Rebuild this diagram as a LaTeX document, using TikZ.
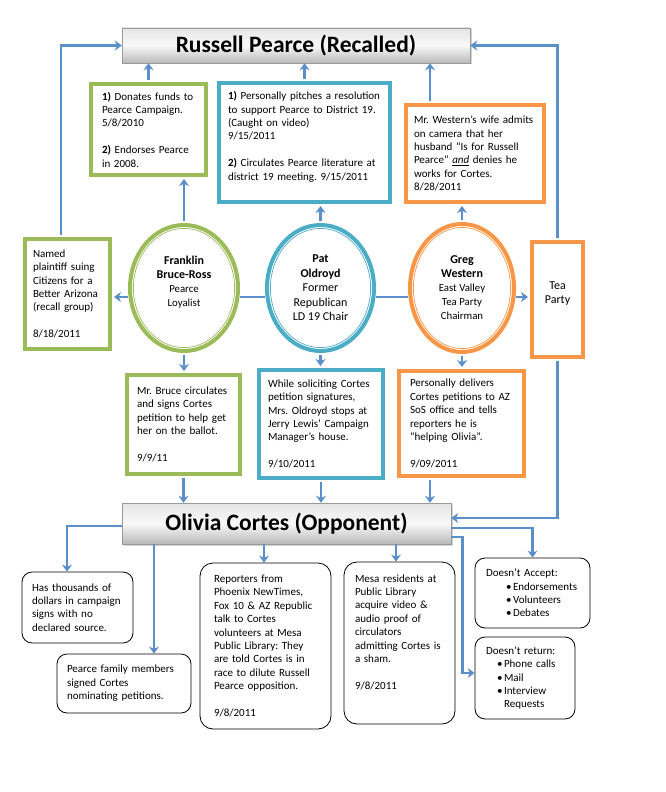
\documentclass[tikz,border=0pt]{standalone}
\usepackage{fontspec}
\setmainfont{Carlito}
\usepackage{xcolor}
\usetikzlibrary{shapes.geometric, arrows.meta, shadows}

\definecolor{cgreen}{HTML}{9BBB59}
\definecolor{ccyan}{HTML}{4BACC6}
\definecolor{corange}{HTML}{F79646}
\definecolor{linkblue}{RGB}{91,143,201}

\newcommand{\bulletat}[1]{\hspace*{#1}\makebox[7pt][l]{\textbullet}}
\frenchspacing

\begin{document}
\begin{tikzpicture}[x=1pt, y=-1pt,
  >={Stealth[length=7pt,width=10pt]},
  body/.style={font=\fontsize{11}{13.4}\selectfont},
  title/.style={draw=gray!80, thin, top color=gray!20, bottom color=gray!55, middle color=gray!5,
    drop shadow={opacity=0.35, shadow xshift=1.5pt, shadow yshift=-1.5pt},
    font=\fontsize{23.5}{26}\selectfont\bfseries},
  card/.style={draw=#1, line width=4pt, fill=white, body, align=left, inner ysep=2pt},
  person/.style={ellipse, draw=#1, line width=4pt, fill=white, inner sep=0pt, align=center,
    font=\fontsize{10.8}{14}\selectfont},
  bubble/.style={draw=black, line width=0.8pt, rounded corners=10pt, fill=white, body, align=left, inner ysep=2pt},
  link/.style={draw=linkblue, line width=2.6pt},
  arr/.style={link, ->},
  outof/.style={shorten <=2pt},
  into/.style={shorten >=2pt}]

\useasboundingbox (0,0) rectangle (665,792);

% Russell Pearce
\node[title, minimum width=348pt, minimum height=35pt] (rp) at (296,45.5) {Russell Pearce (Recalled)};

\node[card=cgreen, text width=93pt, inner xsep=11pt, minimum height=91pt] (don) at (148.5,129.5)
  {\textbf{1)} Donates funds to\\Pearce Campaign.\\5/8/2010\\[13.4pt]\textbf{2)} Endorses Pearce\\in 2008.};
\node[card=ccyan, text width=153pt, inner xsep=9pt, minimum height=119pt] (pitch) at (304.5,142.5)
  {\textbf{1)} Personally pitches a resolution\\to support Pearce to District 19.\\(Caught on video)\\9/15/2011\\[13.4pt]\textbf{2)} Circulates Pearce literature at\\district 19 meeting. 9/15/2011\\\mbox{}};
\node[card=corange, text width=122pt, inner xsep=8pt, minimum height=97pt] (wife) at (475,153.5)
  {Mr. Western’s wife admits\\on camera that her\\husband “Is for Russell\\Pearce” \underline{\textit{and}} denies he\\works for Cortes.\\8/28/2011};

% the three people
\node[card=cgreen, text width=69pt, inner xsep=8pt, minimum height=110pt] (plaintiff) at (67.5,294)
  {Named\\plaintiff suing\\Citizens for a\\Better Arizona\\(recall group)\\[13.4pt]8/18/2011};
\node[person=cgreen, minimum width=108pt, minimum height=126pt] (fbr) at (184,288)
  {\textbf{\fontsize{12}{14}\selectfont Franklin}\\\textbf{\fontsize{12}{14}\selectfont Bruce-Ross}\\Pearce\\Loyalist\\\mbox{}};
\node[person=ccyan, minimum width=107pt, minimum height=126pt, font=\fontsize{12}{14.5}\selectfont] (pat) at (320.5,288)
  {\textbf{Pat}\\\textbf{Oldroyd}\\Former\\Republican\\LD 19 Chair};
\node[person=corange, minimum width=104pt, minimum height=128pt] (greg) at (462,288)
  {\textbf{\fontsize{12}{14}\selectfont Greg}\\\textbf{\fontsize{12}{14}\selectfont Western}\\East Valley\\Tea Party\\Chairman};
\node[card=corange, align=center, inner xsep=0pt, minimum width=51pt, minimum height=115pt,
  font=\fontsize{12}{14}\selectfont] (tea) at (557.5,299.5) {Tea\\Party\\\mbox{}};

\node[card=cgreen, text width=93pt, inner xsep=10pt, minimum height=99pt] (bruce) at (183.5,424.5)
  {Mr. Bruce circulates\\and signs Cortes\\petition to help get\\her on the ballot.\\[13.4pt]9/9/11};
\node[card=ccyan, text width=106pt, inner xsep=9pt, minimum height=108pt] (oldr) at (321,424)
  {While soliciting Cortes\\petition signatures,\\Mrs. Oldroyd stops at\\Jerry Lewis’ Campaign\\Manager’s house.\\[13.4pt]9/10/2011};
\node[card=corange, text width=103pt, inner xsep=11pt, minimum height=105pt] (deliv) at (461.5,423.5)
  {Personally delivers\\Cortes petitions to AZ\\SoS office and tells\\reporters he is\\“helping Olivia”.\\[13.4pt]9/09/2011};

% Olivia Cortes
\node[title, minimum width=329pt, minimum height=41pt] (oc) at (286.5,523.5) {Olivia Cortes (Opponent)};

\node[bubble, text width=91pt, inner xsep=10pt, minimum height=71pt] (signs) at (77.5,607.5)
  {Has thousands of\\dollars in campaign\\signs with no\\declared source.};
\node[bubble, text width=114pt, inner xsep=10pt, minimum height=59pt] (family) at (124,683.5)
  {Pearce family members\\signed Cortes\\nominating petitions.};
\node[bubble, rounded corners=13pt, text width=103pt, inner xsep=14pt, minimum height=166pt] (reporters) at (265.5,646)
  {Reporters from\\Phoenix NewTimes,\\Fox 10 \& AZ Republic\\talk to Cortes\\volunteers at Mesa\\Public Library: They\\are told Cortes is in\\race to dilute Russell\\Pearce opposition.\\[13.4pt]9/8/2011};
\node[bubble, rounded corners=13pt, text width=89pt, inner xsep=11pt, minimum height=162pt] (mesa) at (399.5,643)
  {Mesa residents at\\Public Library\\acquire video \&\\audio proof of\\circulators\\admitting Cortes is\\a sham.\\[13.4pt]9/8/2011\\[9pt]\mbox{}};
\node[bubble, text width=93pt, inner xsep=11pt, minimum height=70pt] (accept) at (532.5,593)
  {Doesn’t Accept:\\\bulletat{20pt}Endorsements\\\bulletat{20pt}Volunteers\\\bulletat{20pt}Debates};
\node[bubble, text width=78pt, inner xsep=11pt, minimum height=82pt] (noreturn) at (525,678)
  {Doesn’t return:\\\bulletat{11pt}Phone calls\\\bulletat{11pt}Mail\\\bulletat{11pt}Interview\\\hspace*{18pt}Requests};

% thin inner frames
\foreach \n/\c in {don/cgreen, plaintiff/cgreen, bruce/cgreen, pitch/ccyan, oldr/ccyan,
                   wife/corange, deliv/corange, tea/corange}
  \draw[\c, line width=0.7pt] ([shift={(3.4pt,3.4pt)}]\n.south west) rectangle ([shift={(-3.4pt,-3.4pt)}]\n.north east);
\foreach \n/\c/\rx/\ry in {fbr/cgreen/50.6/59.6, pat/ccyan/50.1/59.6, greg/corange/48.6/60.6}
  \draw[\c, line width=0.7pt] (\n.center) ellipse [x radius=\rx, y radius=\ry];

% free ends
\coordinate (wt) at ([xshift=-45pt]wife.north);
\coordinate (pl) at ([xshift=-6.5pt]plaintiff.north);
\coordinate (dv) at ([xshift=-31.5pt]deliv.south);
\coordinate (sg) at ([xshift=-10.5pt]signs.north);
\coordinate (fm) at ([xshift=30pt]family.north);
\coordinate (rt) at ([xshift=-1.5pt]reporters.north);
\coordinate (ms) at ([xshift=-3.5pt]mesa.north);
\coordinate (fw) at ([yshift=-9pt]fbr.west);
\coordinate (fe) at ([yshift=-9pt]fbr.east);
\coordinate (pw) at ([yshift=-9pt]pat.west);
\coordinate (pe) at ([yshift=-9pt]pat.east);
\coordinate (gw) at ([yshift=-9pt]greg.west);
\coordinate (ge) at ([yshift=-9pt]greg.east);

% up to Russell Pearce
\draw[arr, outof] (don.north) -- (don.north |- rp.south);
\draw[arr, outof] (pitch.north) -- (pitch.north |- rp.south);
\draw[arr, outof] (wt) -- (wt |- rp.south);
\draw[arr, outof] (pl) |- (rp.west);
\draw[arr, outof] (tea.north) |- (rp.east);

% around the people
\draw[arr, outof, into] (fbr.north) -- (fbr.north |- don.south);
\draw[arr, outof, into] (pat.north) -- (pat.north |- pitch.south);
\draw[arr, outof, into] (greg.north) -- (greg.north |- wife.south);
\draw[arr, into] (fw) -- (fw -| plaintiff.east);
\draw[link] (fe) -- (pw);
\draw[link] (pe) -- (gw);
\draw[arr, into] (ge) -- (ge -| tea.west);
\draw[arr, outof, into] (fbr.south) -- (fbr.south |- bruce.north);
\draw[arr, outof, into] (pat.south) -- (pat.south |- oldr.north);
\draw[arr, outof, into] (greg.south) -- (greg.south |- deliv.north);

% down to Olivia Cortes
\draw[arr, outof] (bruce.south) -- (bruce.south |- oc.north);
\draw[arr, outof] (oldr.south) -- (oldr.south |- oc.north);
\draw[arr, outof] (dv) -- (dv |- oc.north);
\draw[arr, outof] (tea.south) |- ([yshift=5.5pt]oc.east);

% out of Olivia Cortes
\draw[arr] ([yshift=-2.5pt]oc.west) -| (sg);
\draw[arr] (fm |- oc.south) -- (fm);
\draw[arr] (rt |- oc.south) -- (rt);
\draw[arr] (ms |- oc.south) -- (ms);
\draw[arr] ([yshift=-4.5pt]oc.east) -| (accept.north);
\draw[arr] ([yshift=-13.5pt]oc.east) -- ++(11,0) |- ([yshift=5pt]noreturn.west);

\end{tikzpicture}
\end{document}
